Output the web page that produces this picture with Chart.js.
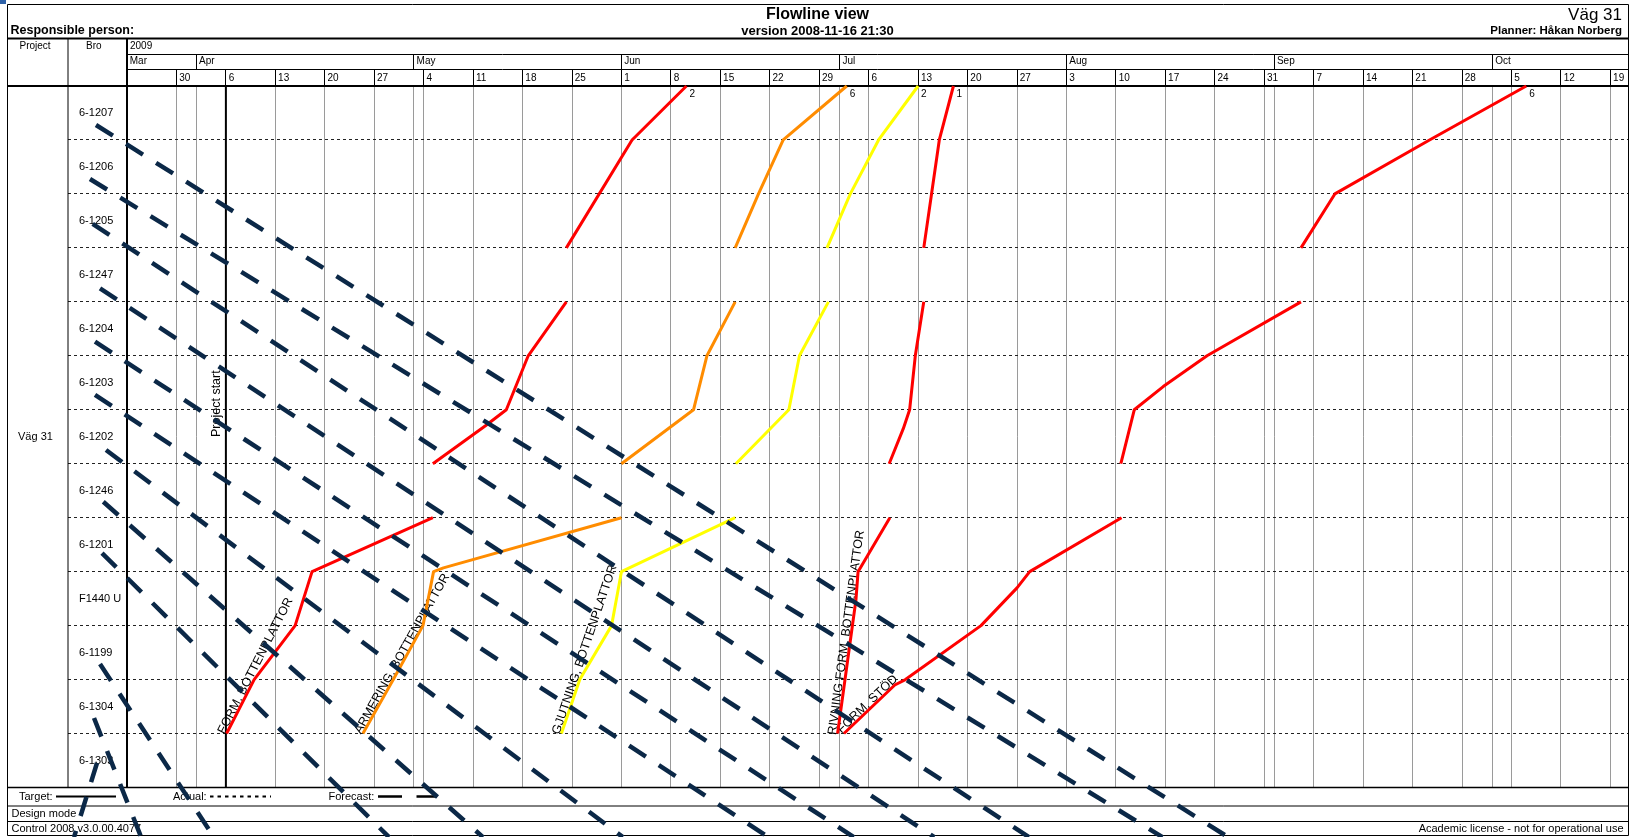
<!DOCTYPE html>
<html>
<head>
<meta charset="utf-8">
<title>Flowline view - Väg 31</title>
<script src="https://cdn.jsdelivr.net/npm/chart.js@4.4.1/dist/chart.umd.min.js"></script>
<style>
  html, body { margin: 0; padding: 0; background: #fff; }
  canvas { display: block; }
</style>
</head>
<body>
<canvas id="flowline" width="1633" height="837"></canvas>
<script>
/* ===== Flowline view, Väg 31 ===== */
// x = days from Monday 23 Mar 2009, y = location boundary (0 = top of 6-1207)

const bridges = ['6-1207', '6-1206', '6-1205', '6-1247', '6-1204', '6-1203', '6-1202',
  '6-1246', '6-1201', 'F1440 U', '6-1199', '6-1304', '6-1303'];

const weekDays = [0, 7, 14, 21, 28, 35, 42, 49, 56, 63, 70, 77, 84, 91, 98, 105, 112, 119,
  126, 133, 140, 147, 154, 161, 168, 175, 182, 189, 196, 203, 210];
const weekLabels = ['', '30', '6', '13', '20', '27', '4', '11', '18', '25', '1', '8', '15', '22',
  '29', '6', '13', '20', '27', '3', '10', '17', '24', '31', '7', '14', '21', '28', '5', '12', '19'];

const monthDays = [0, 9.8, 40.6, 70, 100.9, 133, 162.4, 193.3];
const monthLabels = ['Mar', 'Apr', 'May', 'Jun', 'Jul', 'Aug', 'Sep', 'Oct'];

const projectStartDay = 14;

// activities: [day, boundary], null = no work on that location
const formBotten = [[14.1, 12], [18, 11], [23.8, 10], [26.2, 9], [43.3, 8], null,
  [43.3, 7], [50.7, 6.3], [53.7, 6], [56.8, 5], [62.2, 4], null,
  [62.2, 3], [71.5, 1], [79.2, 0]];
const armering = [[33.4, 12], [37.7, 11], [41.9, 10], [43.4, 9], [44.8, 8.93], [70.0, 8], null,
  [70.0, 7], [80.2, 6], [82.1, 5], [86.1, 4], null,
  [86.1, 3], [89.4, 2], [92.9, 1], [101.9, 0]];
const gjutning = [[61.5, 12], [64.1, 11], [68.6, 10], [70.0, 9], [86.1, 8], null,
  [86.2, 7], [93.7, 6], [95.2, 5], [99.3, 4], null,
  [99.1, 3], [102.4, 2], [106.4, 1], [112.0, 0]];
const rivning = [[100.6, 12], [103.2, 9.52], [103.5, 9], [108.0, 8], null,
  [107.9, 7], [109.9, 6.35], [110.8, 6], [111.6, 5], [112.8, 4], null,
  [112.8, 3], [113.9, 2], [115.0, 1], [117.0, 0]];
const formStod = [[101.5, 12], [108.7, 11.1], [110.2, 11], [120.9, 10], [126.0, 9.3], [127.8, 9], [140.8, 8], null,
  [140.7, 7], [142.6, 6], [146.7, 5.57], [152.9, 5], [166.2, 4], null,
  [166.2, 3], [171.0, 2], [184.4, 1], [198.1, 0]];

const activities = [formBotten, armering, gjutning, rivning, formStod];
const activityNames = ['FORM, BOTTENPLATTOR', 'ARMERING, BOTTENPLATTOR', 'GJUTNING, BOTTENPLATTOR',
  'RIVNING FORM, BOTTENPLATTOR', 'FORM, STÖD'];
const activityTags = ['2', '6', '2', '1', '6'];
const activityColors = ['#ff0000', '#ff8c00', '#ffff00', '#ff0000', '#ff0000'];

// forecast lines, start and end [day, boundary]
const forecastFrom = [[-4.39, 0.723], [-5.24, 1.724], [-4.86, 2.557], [-3.82, 3.749], [-4.53, 4.739],
  [-4.53, 5.726], [-2.97, 6.746], [-3.36, 7.704], [-3.54, 8.655], [-3.82, 10.712], [-4.67, 11.712], [-4.25, 12.546]];
const forecastTo = [[155.9, 13.92], [146.6, 13.92], [127.7, 13.92], [114.3, 13.92], [102.9, 13.92],
  [90.8, 13.92], [70.2, 13.92], [50.4, 13.92], [37.1, 13.92], [12.3, 13.92], [2.0, 13.92], [-7.5, 13.92]];

const FONT = "'Liberation Sans', Arial, sans-serif";
Chart.defaults.font.family = FONT;
Chart.defaults.color = '#000';

function text(ctx, str, x, y, font, align) {
  ctx.font = font + ' ' + FONT;
  ctx.textAlign = align || 'left';
  ctx.textBaseline = 'middle';
  ctx.fillText(str, x, y);
}

function stroke(ctx, x1, y1, x2, y2, w, dash) {
  ctx.save();
  ctx.lineWidth = w;
  ctx.setLineDash(dash || []);
  ctx.beginPath();
  ctx.moveTo(x1, y1);
  ctx.lineTo(x2, y2);
  ctx.stroke();
  ctx.restore();
}

const sheetPlugin = {
  id: 'sheet',
  beforeDraw(chart) {
    const ctx = chart.ctx;
    ctx.save();
    ctx.fillStyle = '#fff';
    ctx.fillRect(0, 0, chart.width, chart.height);
    ctx.fillStyle = '#2f62a8';
    ctx.fillRect(0, 0, 6, 4);
    ctx.restore();
  },
  beforeDatasetsDraw(chart) {
    const { ctx, chartArea: a, scales: { x, y } } = chart;
    const L = 7.5, R = 1628.5, T = 4.5, B = 835.5;
    ctx.save();
    ctx.strokeStyle = '#000';
    ctx.fillStyle = '#000';

    // frame and header rules
    stroke(ctx, L, T, R, T, 1);
    stroke(ctx, L, B, R, B, 1);
    stroke(ctx, L, T, L, B, 1);
    stroke(ctx, R, T, R, B, 1);
    stroke(ctx, L, 38.5, R, 38.5, 2);
    stroke(ctx, a.left, 54.5, R, 54.5, 1);
    stroke(ctx, a.left, 69.5, R, 69.5, 1);
    stroke(ctx, L, a.top, R, a.top, 2);
    stroke(ctx, 68, 38.5, 68, a.bottom, 1);
    stroke(ctx, a.left, 38.5, a.left, a.bottom, 2);

    // footer rules
    stroke(ctx, L, a.bottom, R, a.bottom, 1.5);
    stroke(ctx, L, 806, R, 806, 1);
    stroke(ctx, L, 821.5, R, 821.5, 1);

    // project start
    const ps = x.getPixelForValue(projectStartDay);
    stroke(ctx, ps, a.top, ps, a.bottom, 2);
    ctx.save();
    ctx.translate(ps - 6, 437);
    ctx.rotate(-Math.PI / 2);
    ctx.font = '12.5px ' + FONT;
    ctx.textAlign = 'left';
    ctx.textBaseline = 'alphabetic';
    ctx.fillText('Project start', 0, 0);
    ctx.restore();

    // header texts
    text(ctx, 'Flowline view', 817.5, 15, 'bold 16px', 'center');
    text(ctx, 'version 2008-11-16 21:30', 817.5, 31, 'bold 13px', 'center');
    text(ctx, 'Responsible person:', 10.5, 31, 'bold 12.5px');
    text(ctx, 'Väg 31', 1622, 15.5, '17px', 'right');
    text(ctx, 'Planner: Håkan Norberg', 1622, 31, 'bold 11.5px', 'right');
    text(ctx, 'Project', 19.5, 46.5, '10px');
    text(ctx, 'Bro', 86, 46.5, '10px');
    text(ctx, '2009', a.left + 3, 46.5, '10px');
    text(ctx, 'Väg 31', 18, (a.top + a.bottom) / 2, '11px');

    // footer texts and legend samples
    text(ctx, 'Target:', 19, 796.5, '11px');
    stroke(ctx, 56, 796.5, 116, 796.5, 2);
    text(ctx, 'Actual:', 173, 796.5, '11px');
    stroke(ctx, 210, 796.5, 271, 796.5, 2, [3.5, 4]);
    text(ctx, 'Forecast:', 328.5, 796.5, '11px');
    stroke(ctx, 378, 796.5, 437, 796.5, 2.5, [24, 14.5]);
    text(ctx, 'Design mode', 11.5, 813.5, '11px');
    text(ctx, 'Control 2008 v3.0.00.4077', 11.5, 828.5, '11px');
    text(ctx, 'Academic license - not for operational use', 1623.5, 828.5, '11px', 'right');

    // activity names along their first segment, tag at the last point
    activities.forEach((pts, i) => {
      const x0 = x.getPixelForValue(pts[0][0]), y0 = y.getPixelForValue(pts[0][1]);
      const x1 = x.getPixelForValue(pts[1][0]), y1 = y.getPixelForValue(pts[1][1]);
      ctx.save();
      ctx.translate(x0, y0);
      ctx.rotate(Math.atan2(y1 - y0, x1 - x0));
      ctx.font = '12.5px ' + FONT;
      ctx.textAlign = 'left';
      ctx.textBaseline = 'alphabetic';
      ctx.fillText(activityNames[i], -2, -1.5);
      ctx.restore();

      const end = pts[pts.length - 1];
      ctx.font = '10px ' + FONT;
      ctx.textAlign = 'left';
      ctx.textBaseline = 'top';
      ctx.fillText(activityTags[i], x.getPixelForValue(end[0]) + 3, y.getPixelForValue(end[1]) + 3);
    });
    ctx.restore();
  }
};

const forecastSets = forecastFrom.map((p, i) => ({
  data: [{ x: p[0], y: p[1] }, { x: forecastTo[i][0], y: forecastTo[i][1] }],
  borderColor: '#0b2847',
  borderWidth: 4.5,
  borderDash: [20, 15.5],
  borderCapStyle: 'butt',
  pointRadius: 0,
  clip: false
}));

const activitySets = activities.map((pts, i) => ({
  data: pts.map(p => p ? { x: p[0], y: p[1] } : { x: null, y: null }),
  borderColor: activityColors[i],
  borderWidth: 3,
  borderJoinStyle: 'round',
  pointRadius: 0,
  spanGaps: false,
  clip: false
}));

function topAxis(values, labels, weight, rowHeight) {
  return {
    type: 'linear',
    position: 'top',
    min: 0,
    max: 212.5,
    weight: weight,
    afterBuildTicks: s => { s.ticks = values.map(v => ({ value: v })); },
    afterFit: s => { s.height = rowHeight; s.paddingLeft = 0; s.paddingRight = 0; },
    ticks: {
      autoSkip: false, maxRotation: 0, minRotation: 0, align: 'start',
      padding: 7.5 - rowHeight - 6 + 0,
      color: '#000', font: { size: 10 },
      callback: (v, i) => ' ' + labels[i]
    },
    grid: { color: '#9a9a9a', lineWidth: 1, tickColor: '#000', tickLength: rowHeight, tickWidth: 1 },
    border: { display: false }
  };
}

new Chart(document.getElementById('flowline'), {
  type: 'line',
  data: { datasets: [...forecastSets, ...activitySets] },
  options: {
    responsive: false,
    animation: false,
    events: [],
    layout: { autoPadding: false, padding: { top: 54, left: 79, right: 5, bottom: 49.5 } },
    plugins: { legend: { display: false }, tooltip: { enabled: false } },
    scales: {
      x: topAxis(weekDays, weekLabels, 0, 17),
      xm: topAxis(monthDays, monthLabels, 1, 15),
      y: {
        type: 'linear',
        reverse: true,
        min: 0,
        max: 13,
        afterBuildTicks: s => { s.ticks = bridges.map((b, i) => ({ value: i + 0.5 })); },
        afterFit: s => { s.width = 48; s.paddingTop = 0; s.paddingBottom = 0; },
        ticks: {
          autoSkip: false, crossAlign: 'far', color: '#000', font: { size: 11 },
          callback: (v, i) => bridges[i]
        },
        grid: { offset: true, color: '#222', lineWidth: 1, tickLength: 59, tickColor: '#222', tickBorderDash: [3, 3] },
        border: { display: false, dash: [3, 3] }
      }
    }
  },
  plugins: [sheetPlugin]
});
</script>
</body>
</html>
